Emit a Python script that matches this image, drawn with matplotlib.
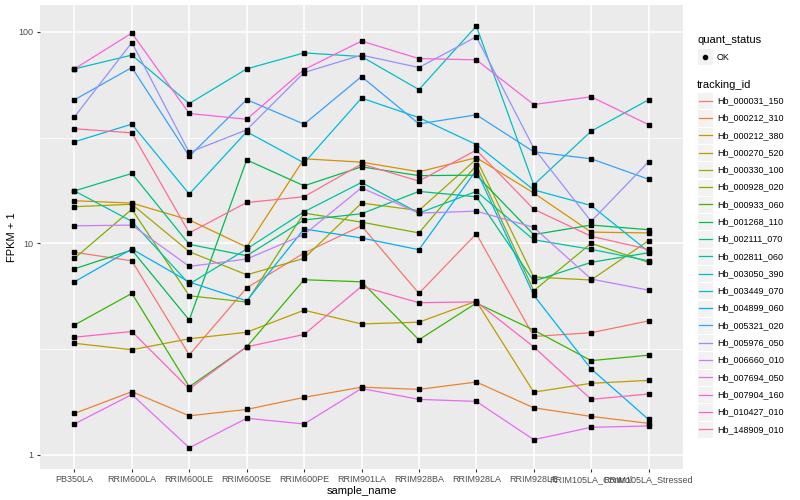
import matplotlib
matplotlib.use("Agg")
import matplotlib.pyplot as plt
from matplotlib.ticker import FixedLocator, NullFormatter
from matplotlib.patches import Rectangle
from matplotlib.lines import Line2D

plt.rcParams['font.family'] = ['Liberation Sans', 'DejaVu Sans']

samples = ['PB350LA', 'RRIM600LA', 'RRIM600LE', 'RRIM600SE', 'RRIM600PE',
           'RRIM901LA', 'RRIM928BA', 'RRIM928LA', 'RRIM928LE',
           'RRIM105LA_Control', 'RRIM105LA_Stressed']

# FPKM + 1 (log scale)
hb_000031_150 = [9.07, 8.27, 2.97, 6.16, 9.00, 12.1, 5.80, 11.1, 3.63, 3.78, 4.30]
hb_000212_310 = [1.57, 1.99, 1.53, 1.64, 1.87, 2.09, 2.04, 2.21, 1.67, 1.52, 1.41]
hb_000212_380 = [15.9, 15.5, 12.9, 9.60, 25.1, 24.2, 21.8, 25.4, 17.3, 11.3, 11.2]
hb_000270_520 = [3.37, 3.14, 3.54, 3.80, 4.83, 4.16, 4.24, 5.33, 1.98, 2.18, 2.25]
hb_000330_100 = [14.9, 15.3, 9.13, 7.10, 8.49, 15.5, 14.3, 25.0, 6.93, 6.71, 10.3]
hb_000928_020 = [8.49, 14.5, 5.65, 5.28, 13.9, 12.6, 11.2, 23.4, 5.97, 10.0, 8.13]
hb_000933_060 = [4.11, 5.80, 2.10, 3.24, 6.73, 6.58, 3.50, 5.22, 3.89, 2.79, 2.96]
hb_001268_110 = [7.58, 9.30, 4.34, 24.8, 18.7, 23.0, 20.9, 21.0, 11.0, 12.2, 11.6]
hb_002111_070 = [17.7, 21.4, 9.89, 8.74, 12.9, 13.8, 17.6, 16.6, 6.63, 8.13, 9.03]
hb_002811_060 = [17.7, 12.7, 6.42, 9.40, 14.1, 19.4, 13.9, 17.6, 10.4, 9.37, 8.27]
hb_003050_390 = [66.8, 77.6, 45.8, 66.8, 79.5, 76.4, 53.3, 106.4, 18.9, 33.9, 47.7]
hb_003449_070 = [30.2, 36.6, 17.1, 33.7, 24.0, 48.6, 39.3, 29.3, 17.9, 15.1, 9.13]
hb_004899_060 = [6.58, 9.40, 6.56, 5.35, 11.7, 10.6, 9.33, 22.2, 5.69, 2.55, 1.47]
hb_005321_020 = [47.7, 67.8, 25.8, 47.8, 36.6, 61.4, 36.7, 40.5, 27.1, 25.1, 20.1]
hb_005976_050 = [39.6, 89.0, 26.9, 34.4, 64.2, 77.6, 67.8, 94.7, 28.2, 12.7, 24.3]
hb_006660_010 = [12.1, 12.2, 7.78, 8.43, 11.0, 18.3, 13.9, 14.2, 11.9, 6.78, 6.01]
hb_007694_050 = [1.40, 1.93, 1.08, 1.49, 1.40, 2.06, 1.83, 1.79, 1.18, 1.35, 1.37]
hb_007904_160 = [66.8, 98.6, 41.1, 38.6, 66.3, 90.4, 74.7, 73.7, 45.3, 49.3, 36.4]
hb_010427_010 = [3.60, 3.83, 2.05, 3.24, 3.71, 6.26, 5.24, 5.29, 3.24, 1.83, 1.94]
hb_148909_010 = [34.8, 33.3, 11.2, 15.6, 16.6, 23.7, 19.7, 27.6, 14.5, 10.8, 9.37]

series = [
    ('Hb_000031_150', hb_000031_150, '#F8766D'),
    ('Hb_000212_310', hb_000212_310, '#EA8331'),
    ('Hb_000212_380', hb_000212_380, '#D89000'),
    ('Hb_000270_520', hb_000270_520, '#C09B00'),
    ('Hb_000330_100', hb_000330_100, '#A3A500'),
    ('Hb_000928_020', hb_000928_020, '#7CAE00'),
    ('Hb_000933_060', hb_000933_060, '#39B600'),
    ('Hb_001268_110', hb_001268_110, '#00BB4E'),
    ('Hb_002111_070', hb_002111_070, '#00BF7D'),
    ('Hb_002811_060', hb_002811_060, '#00C1A3'),
    ('Hb_003050_390', hb_003050_390, '#00BFC4'),
    ('Hb_003449_070', hb_003449_070, '#00BAE0'),
    ('Hb_004899_060', hb_004899_060, '#00B0F6'),
    ('Hb_005321_020', hb_005321_020, '#35A2FF'),
    ('Hb_005976_050', hb_005976_050, '#9590FF'),
    ('Hb_006660_010', hb_006660_010, '#C77CFF'),
    ('Hb_007694_050', hb_007694_050, '#E76BF3'),
    ('Hb_007904_160', hb_007904_160, '#FA62DB'),
    ('Hb_010427_010', hb_010427_010, '#FF62BC'),
    ('Hb_148909_010', hb_148909_010, '#FF6C91'),
]

fig = plt.figure(figsize=(8, 5), dpi=100)
ax = fig.add_axes([0.05, 0.062, 0.80375, 0.928])
ax.set_facecolor('#EBEBEB')
for s in ax.spines.values():
    s.set_visible(False)

x = list(range(len(samples)))
for name, vals, col in series:
    ax.plot(x, vals, color=col, lw=0.9, zorder=3)
for name, vals, col in series:
    ax.plot(x, vals, 's', color='black', ms=2.6, zorder=4)

ax.set_yscale('log')
ax.set_ylim(10 ** -0.0667, 10 ** 2.1267)
ax.set_xlim(-0.6, 10.6)
ax.set_xticks(x)
ax.set_xticklabels(samples)
ax.yaxis.set_major_locator(FixedLocator([1, 10, 100]))
ax.set_yticklabels(['1', '10', '100'])
ax.yaxis.set_minor_locator(FixedLocator([10 ** 0.5, 10 ** 1.5]))
ax.yaxis.set_minor_formatter(NullFormatter())
ax.tick_params(which='major', length=2.5, width=0.8, color='#333333',
               labelsize=6.5, labelcolor='#4D4D4D', pad=2)
ax.tick_params(which='minor', length=0)
ax.grid(which='major', color='white', lw=1.1)
ax.grid(which='minor', axis='y', color='white', lw=0.55)
ax.set_axisbelow(True)
ax.set_xlabel('sample_name', fontsize=8, labelpad=1)
ax.set_ylabel('FPKM + 1', fontsize=8, labelpad=1)

# legends drawn by hand, ggplot style
W, H = 800.0, 500.0
def fx(px):
    return px / W
def fy(py):
    return 1 - py / H

fig.text(fx(697), fy(40), 'quant_status', fontsize=8, va='center')
fig.add_artist(Rectangle((fx(697), fy(65)), 16 / W, 16.5 / H, facecolor='#F2F2F2',
                         edgecolor='white', lw=0.8, transform=fig.transFigure))
fig.add_artist(Line2D([fx(705)], [fy(57)], marker='o', ms=3.0, color='black',
                      transform=fig.transFigure))
fig.text(fx(717), fy(57), 'OK', fontsize=6.5, va='center')

fig.text(fx(697), fy(84.5), 'tracking_id', fontsize=8, va='center')
for i, (name, vals, col) in enumerate(series):
    yc = 100.7 + i * 17.29
    fig.add_artist(Rectangle((fx(697), fy(yc + 8.6)), 16 / W, 17.2 / H, facecolor='#F2F2F2',
                             edgecolor='white', lw=0.8, transform=fig.transFigure))
    fig.add_artist(Line2D([fx(698.5), fx(711.5)], [fy(yc), fy(yc)], color=col, lw=0.9,
                          transform=fig.transFigure))
    fig.text(fx(717), fy(yc), name, fontsize=6.5, va='center')

fig.savefig('out.png', dpi=100)
